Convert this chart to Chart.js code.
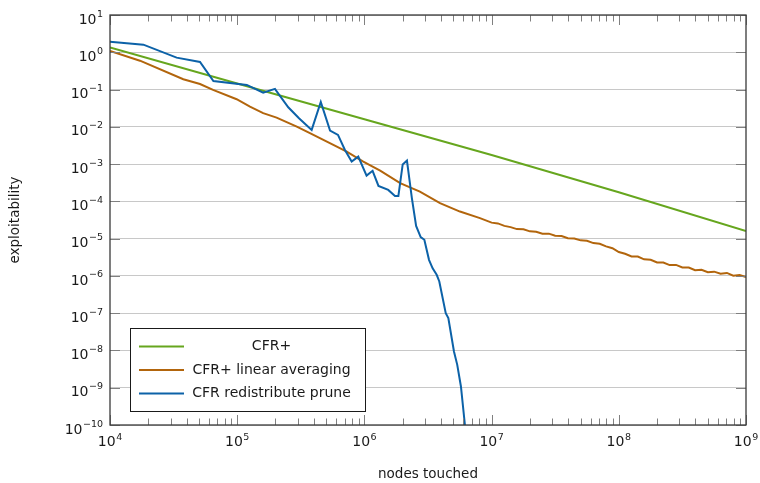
<!DOCTYPE html>
<html lang="en">
<head>
  <meta charset="UTF-8" />
  <title>Exploitability vs nodes touched</title>
  <script src="https://cdn.jsdelivr.net/npm/chart.js"></script>
  <style>
    html, body { margin: 0; padding: 0; background: #fff; }
  </style>
</head>
<body>
  <canvas id="grafico" width="760" height="483"></canvas>

<script>
  // series names and colours
  const seriesLabels = ["CFR+", "CFR+ linear averaging", "CFR redistribute prune"];
  const seriesColors = ["#66a61e", "#b2650c", "#0c62a8"];

  // tick values (decades)
  const xTickValues = [1e4, 1e5, 1e6, 1e7, 1e8, 1e9];
  const yTickValues = [1e-10, 1e-9, 1e-8, 1e-7, 1e-6, 1e-5, 1e-4, 1e-3, 1e-2, 1e-1, 1e0, 1e1];

  // CFR+
  const cfrPlusX = [1e4, 1e5, 1e6, 1e7, 1e8, 1e9];
  const cfrPlusY = [1.35, 0.145, 0.016, 1.75e-3, 1.75e-4, 1.6e-5];

  // CFR+ linear averaging
  const linearX = [
    1e4, 1.72e4, 3.77e4, 5.1e4, 6.46e4, 9.9e4, 1.26e5, 1.6e5, 2.04e5, 2.94e5,
    3.73e5, 5.7e5, 7.26e5, 9.8e5, 1.33e6, 1.91e6, 2.73e6, 3.93e6, 5.64e6, 8.1e6,
    1e7, 1.12e7, 1.26e7, 1.41e7, 1.58e7, 1.78e7, 2.0e7, 2.24e7, 2.51e7,
    2.82e7, 3.16e7, 3.55e7, 3.98e7, 4.47e7, 5.01e7, 5.62e7, 6.31e7, 7.08e7, 7.94e7,
    8.91e7, 1e8, 1.12e8, 1.26e8, 1.41e8, 1.58e8, 1.78e8, 2.0e8, 2.24e8, 2.51e8,
    2.82e8, 3.16e8, 3.55e8, 3.98e8, 4.47e8, 5.01e8, 5.62e8, 6.31e8, 7.08e8, 7.94e8,
    8.91e8, 1e9
  ];
  const linearY = [
    1.08, 0.595, 0.189, 0.141, 0.0977, 0.055, 0.0348, 0.0232, 0.0177, 0.0101,
    6.76e-3, 3.27e-3, 2.16e-3, 1.17e-3, 6.7e-4, 3.08e-4, 1.83e-4, 8.95e-5, 5.33e-5, 3.55e-5,
    2.69e-5, 2.56e-5, 2.2e-5, 2.04e-5, 1.8e-5, 1.78e-5, 1.57e-5, 1.52e-5, 1.36e-5,
    1.36e-5, 1.2e-5, 1.17e-5, 1.03e-5, 1.01e-5, 9.0e-6, 8.8e-6, 7.6e-6, 7.3e-6, 6.2e-6,
    5.55e-6, 4.38e-6, 3.92e-6, 3.33e-6, 3.3e-6, 2.78e-6, 2.72e-6, 2.3e-6, 2.28e-6, 1.95e-6,
    1.97e-6, 1.68e-6, 1.68e-6, 1.42e-6, 1.46e-6, 1.25e-6, 1.3e-6, 1.14e-6, 1.2e-6, 1.01e-6,
    1.06e-6, 9.3e-7
  ];

  // CFR redistribute prune
  const pruneX = [
    1e4, 1.83e4, 3.34e4, 5.1e4, 6.5e4, 1.19e5, 1.6e5, 1.98e5, 2.52e5, 3.06e5,
    3.85e5, 4.54e5, 5.37e5, 6.2e5, 7.03e5, 7.94e5, 8.95e5, 1.04e6, 1.16e6, 1.29e6,
    1.54e6, 1.74e6, 1.85e6, 2.0e6, 2.16e6, 2.36e6, 2.55e6, 2.77e6, 2.96e6, 3.22e6,
    3.44e6, 3.7e6, 3.88e6, 4.36e6, 4.57e6, 5.06e6, 5.37e6, 5.74e6, 6.17e6, 6.6e6
  ];
  const pruneY = [
    1.92, 1.6, 0.717, 0.55, 0.17, 0.133, 0.0826, 0.104, 0.0335, 0.017,
    8.26e-3, 0.0465, 7.9e-3, 6.07e-3, 2.4e-3, 1.17e-3, 1.59e-3, 4.9e-4, 6.6e-4, 2.6e-4,
    2.03e-4, 1.4e-4, 1.4e-4, 9.8e-4, 1.24e-3, 1.24e-4, 2.2e-5, 1.1e-5, 9.3e-6, 2.7e-6,
    1.6e-6, 1.07e-6, 7.1e-7, 1.0e-7, 7.4e-8, 9.4e-9, 4.1e-9, 1.08e-9, 1.0e-10, 1.0e-11
  ];

  const fonte = "DejaVu Sans";
  const corTexto = "#1a1a1a";

  function pontos(xs, ys) {
    return xs.map((x, i) => ({ x: x, y: ys[i] }));
  }

  function expoente(v) {
    const e = Math.round(Math.log10(v));
    return e < 0 ? "\u2212" + Math.abs(e) : String(e);
  }

  // frame, inward ticks, 10^n labels and the legend box
  const molduraPlugin = {
    id: "moldura",
    afterDatasetsDraw(chart) {
      const { ctx, chartArea: a, scales: { x, y } } = chart;
      ctx.save();

      // tick marks
      ctx.strokeStyle = "#808080";
      ctx.lineWidth = 1;
      ctx.beginPath();
      for (let d = 0; d < xTickValues.length; d++) {
        const base = xTickValues[d];
        const px = Math.round(x.getPixelForValue(base)) + 0.5;
        ctx.moveTo(px, a.bottom); ctx.lineTo(px, a.bottom - 10);
        ctx.moveTo(px, a.top); ctx.lineTo(px, a.top + 10);
        if (d === xTickValues.length - 1) continue;
        for (let k = 2; k <= 9; k++) {
          const pm = Math.round(x.getPixelForValue(base * k)) + 0.5;
          ctx.moveTo(pm, a.bottom); ctx.lineTo(pm, a.bottom - 6.5);
          ctx.moveTo(pm, a.top); ctx.lineTo(pm, a.top + 6.5);
        }
      }
      yTickValues.forEach(v => {
        const py = Math.round(y.getPixelForValue(v)) + 0.5;
        ctx.moveTo(a.left, py); ctx.lineTo(a.left + 10, py);
        ctx.moveTo(a.right, py); ctx.lineTo(a.right - 10, py);
      });
      ctx.stroke();

      // frame
      ctx.strokeStyle = "#3a3a3a";
      ctx.lineWidth = 1.3;
      ctx.strokeRect(a.left, a.top, a.right - a.left, a.bottom - a.top);

      // tick labels
      ctx.fillStyle = corTexto;
      ctx.textBaseline = "alphabetic";
      const fBase = "14px '" + fonte + "'";
      const fExp = "9.5px '" + fonte + "'";

      yTickValues.forEach(v => {
        const py = y.getPixelForValue(v);
        const ex = expoente(v);
        ctx.font = fExp;
        ctx.textAlign = "right";
        const we = ctx.measureText(ex).width;
        ctx.fillText(ex, a.left - 7, py + 1.5);
        ctx.font = fBase;
        ctx.fillText("10", a.left - 7 - we - 0.5, py + 8.6);
      });

      xTickValues.forEach(v => {
        const px = x.getPixelForValue(v);
        const ex = expoente(v);
        ctx.font = fBase;
        const w10 = ctx.measureText("10").width;
        ctx.font = fExp;
        const we = ctx.measureText(ex).width;
        const inicio = px - (w10 + we + 0.5) / 2;
        ctx.textAlign = "left";
        ctx.font = fBase;
        ctx.fillText("10", inicio, a.bottom + 21);
        ctx.font = fExp;
        ctx.fillText(ex, inicio + w10 + 0.5, a.bottom + 15);
      });

      // legend
      const lx = 130.5, ly = 328.5, lw = 235, lh = 83;
      ctx.fillStyle = "#ffffff";
      ctx.fillRect(lx, ly, lw, lh);
      ctx.strokeStyle = "#1a1a1a";
      ctx.lineWidth = 1;
      ctx.strokeRect(lx, ly, lw, lh);
      const linhasY = [346.5, 370, 393.5];
      ctx.font = "14px '" + fonte + "'";
      ctx.textAlign = "center";
      ctx.textBaseline = "middle";
      seriesLabels.forEach((nome, i) => {
        ctx.strokeStyle = seriesColors[i];
        ctx.lineWidth = 2;
        ctx.beginPath();
        ctx.moveTo(139, linhasY[i]);
        ctx.lineTo(184, linhasY[i]);
        ctx.stroke();
        ctx.fillStyle = corTexto;
        ctx.fillText(nome, 271.5, linhasY[i]);
      });

      ctx.restore();
    }
  };

  Chart.defaults.font.family = fonte;
  Chart.defaults.color = corTexto;

  const ctx = document.getElementById("grafico").getContext("2d");
  new Chart(ctx, {
    type: "line",
    data: {
      datasets: [
        { label: seriesLabels[0], data: pontos(cfrPlusX, cfrPlusY), borderColor: seriesColors[0], order: 3 },
        { label: seriesLabels[1], data: pontos(linearX, linearY), borderColor: seriesColors[1], order: 2 },
        { label: seriesLabels[2], data: pontos(pruneX, pruneY), borderColor: seriesColors[2], order: 1 }
      ]
    },
    options: {
      responsive: false,
      animation: false,
      elements: {
        line: { borderWidth: 2, tension: 0, fill: false },
        point: { radius: 0, hoverRadius: 0 }
      },
      layout: { padding: { top: 15, right: 14, left: 0, bottom: 0 } },
      plugins: {
        legend: { display: false },
        tooltip: { enabled: false }
      },
      scales: {
        x: {
          type: "logarithmic",
          min: 1e4,
          max: 1e9,
          grid: { display: false },
          border: { display: false },
          ticks: { display: false },
          afterBuildTicks: scale => { scale.ticks = xTickValues.map(v => ({ value: v })); },
          afterFit: scale => { scale.height = 58; },
          title: {
            display: true,
            text: "nodes touched",
            font: { size: 13.5 },
            color: corTexto,
            padding: { top: 0, bottom: 0 }
          }
        },
        y: {
          type: "logarithmic",
          min: 1e-10,
          max: 1e1,
          grid: { color: "#c8c8c8", lineWidth: 1, drawTicks: false },
          border: { display: false },
          ticks: { display: false },
          afterBuildTicks: scale => { scale.ticks = yTickValues.map(v => ({ value: v })); },
          afterFit: scale => { scale.width = 110; },
          title: {
            display: true,
            text: "exploitability",
            font: { size: 13.5 },
            color: corTexto,
            padding: { top: 7, bottom: 0 }
          }
        }
      }
    },
    plugins: [molduraPlugin]
  });
</script>
</body>
</html>
